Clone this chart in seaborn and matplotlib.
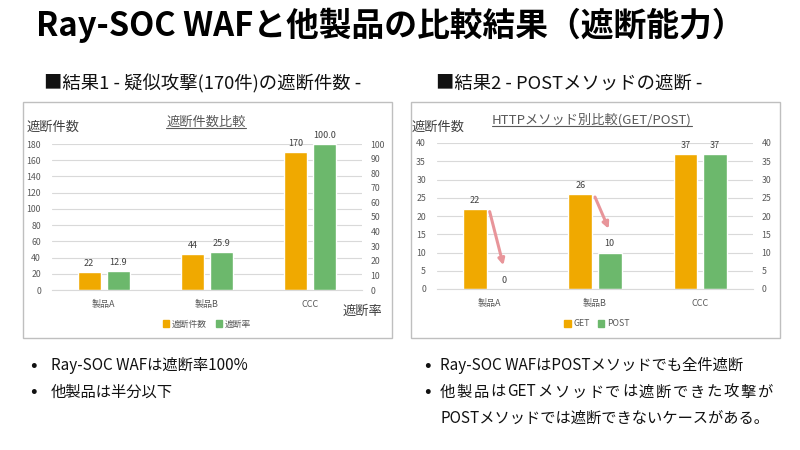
import matplotlib
matplotlib.use('Agg')
import matplotlib.pyplot as plt
import seaborn as sns
import pandas as pd
from matplotlib.patches import Rectangle, Patch
from matplotlib.lines import Line2D

# data
products = ['製品A', '製品B', 'CCC']
block_counts = [22, 44, 170]          # 遮断件数 (left axis)
block_rates = [12.9, 25.9, 100.0]     # 遮断率 (right axis)
get_counts = [22, 26, 37]
post_counts = [0, 10, 37]
left_ticks = list(range(0, 181, 20))
left_rate_ticks = list(range(0, 101, 10))
right_ticks = list(range(0, 41, 5))

ORANGE = '#F0A900'
GREEN = '#6CB86C'
TICK = '#595959'
DARK = '#404040'
ARROW = '#E8959A'

sns.set_theme(style='white')
plt.rcParams['font.family'] = ['Noto Sans CJK JP', 'DejaVu Sans']

W, H = 800, 450
fig = plt.figure(figsize=(8, 4.5), dpi=100)
fig.patch.set_facecolor('white')


def fx(px):
    return px / W


def fy(py):
    return 1 - py / H


def underline(t, color):
    r = fig.canvas.get_renderer()
    bb = t.get_window_extent(r)
    y = bb.y0 + 1
    fig.add_artist(Line2D([bb.x0 / W, bb.x1 / W], [y / H, y / H],
                          transform=fig.transFigure, color=color, lw=0.8))


def spaced_text(x0, x1, y, tokens, **kw):
    # justified line: spread tokens evenly between x0 and x1 (pixels)
    r = fig.canvas.get_renderer()
    texts = [fig.text(0, fy(y), t, **kw) for t in tokens]
    widths = [t.get_window_extent(r).width for t in texts]
    gap = (x1 - x0 - sum(widths)) / (len(tokens) - 1)
    x = x0
    for t, w in zip(texts, widths):
        t.set_x(fx(x))
        x += w + gap


# ---- slide texts ----
fig.text(fx(36), fy(36), 'Ray-SOC WAFと他製品の比較結果（遮断能力）',
         fontsize=23.6, fontweight='bold', color='black', va='baseline')
fig.text(fx(44), fy(89), '■結果1 - 疑似攻撃(170件)の遮断件数 -',
         fontsize=13.2, color='#111111', va='baseline')
fig.text(fx(436), fy(89), '■結果2 - POSTメソッドの遮断 -',
         fontsize=13.2, color='#111111', va='baseline')

# chart frames
for x0, x1 in [(23, 392), (411, 780)]:
    fig.patches.append(Rectangle((fx(x0), fy(338)), (x1 - x0) / W, (338 - 102) / H,
                                 transform=fig.transFigure, fill=False,
                                 edgecolor='#BFBFBF', lw=1))

# ---- left chart: 遮断件数比較 ----
df1 = pd.DataFrame({
    '製品': products * 2,
    '系列': ['遮断件数'] * 3 + ['遮断率'] * 3,
    '値': block_counts + block_rates,
})
pal1 = {'遮断件数': ORANGE, '遮断率': GREEN}
order1 = ['遮断件数', '遮断率']

ax1 = fig.add_axes([fx(52), fy(290), (362 - 52) / W, (290 - 144) / H])
ax1r = ax1.twinx()
sns.barplot(data=df1[df1['系列'] == '遮断件数'], x='製品', y='値', hue='系列',
            hue_order=order1, palette=pal1, order=products, width=0.56, gap=0.2,
            dodge=True, saturation=1, errorbar=None, legend=False, ax=ax1)
sns.barplot(data=df1[df1['系列'] == '遮断率'], x='製品', y='値', hue='系列',
            hue_order=order1, palette=pal1, order=products, width=0.56, gap=0.2,
            dodge=True, saturation=1, errorbar=None, legend=False, ax=ax1r)
ax1.set_ylim(0, 180)
ax1.set_yticks(left_ticks)
ax1r.set_ylim(0, 100)
ax1r.set_yticks(left_rate_ticks)
for c in ax1.containers:
    ax1.bar_label(c, fmt='%d', padding=3, fontsize=6.5, color=DARK)
for c in ax1r.containers:
    ax1r.bar_label(c, fmt='%.1f', padding=3, fontsize=6.5, color=DARK)

# ---- right chart: HTTPメソッド別比較 ----
df2 = pd.DataFrame({
    '製品': products * 2,
    'メソッド': ['GET'] * 3 + ['POST'] * 3,
    '件数': get_counts + post_counts,
})
ax2 = fig.add_axes([fx(437), fy(289), (753 - 437) / W, (289 - 143) / H])
ax2r = ax2.twinx()
sns.barplot(data=df2, x='製品', y='件数', hue='メソッド', order=products,
            palette={'GET': ORANGE, 'POST': GREEN}, width=0.56, gap=0.2,
            saturation=1, errorbar=None, legend=False, ax=ax2)
ax2.set_ylim(0, 40)
ax2.set_yticks(right_ticks)
ax2r.set_ylim(0, 40)
ax2r.set_yticks(right_ticks)
for c in ax2.containers:
    ax2.bar_label(c, fmt='%d', padding=3, fontsize=6.5, color=DARK)

# arrows GET -> POST where POST blocks fewer
for i, (g, p) in enumerate(zip(get_counts, post_counts)):
    if p < g:
        ax2.annotate('', xy=(i + 0.13, p + 6.5), xytext=(i, g - 0.8),
                     arrowprops=dict(arrowstyle='-|>', color=ARROW, lw=2.2,
                                     mutation_scale=9, shrinkA=0, shrinkB=0))

# shared axis styling
for ax in [ax1, ax1r, ax2, ax2r]:
    ax.set_xlabel('')
    ax.set_ylabel('')
    ax.set_xlim(-0.5, 2.5)
    for s in ax.spines.values():
        s.set_visible(False)
    ax.tick_params(axis='both', length=0, labelsize=6.3, labelcolor=TICK)
for ax in [ax1, ax2]:
    ax.set_axisbelow(True)
    ax.yaxis.grid(True, color='#D9D9D9', lw=0.8)
    ax.xaxis.grid(False)
    ax.spines['bottom'].set_visible(True)
    ax.spines['bottom'].set_color('#D9D9D9')
    ax.spines['bottom'].set_linewidth(0.8)
    ax.tick_params(axis='y', pad=8)
    ax.tick_params(axis='x', pad=7, labelsize=6.5)
    ax.patch.set_alpha(0)
for ax in [ax1r, ax2r]:
    ax.grid(False)
    ax.tick_params(axis='y', pad=6)

# chart titles / axis titles
t1 = fig.text(fx(206), fy(122), '遮断件数比較', fontsize=9.5, color=TICK,
              ha='center', va='center')
underline(t1, TICK)
fig.text(fx(27), fy(127), '遮断件数', fontsize=9.5, color=DARK, va='center')
fig.text(fx(343), fy(311), '遮断率', fontsize=9.5, color=DARK, va='center')
t2 = fig.text(fx(592), fy(120), 'HTTPメソッド別比較(GET/POST)', fontsize=9.5,
              color=TICK, ha='center', va='center')
underline(t2, TICK)
fig.text(fx(412), fy(127), '遮断件数', fontsize=9.5, color=DARK, va='center')

# legends
leg_kw = dict(ncol=2, frameon=False, fontsize=6.3, handlelength=0.7,
              handleheight=0.7, columnspacing=1.0, handletextpad=0.3,
              loc='center', labelcolor=TICK)
fig.legend(handles=[Patch(color=ORANGE, label='遮断件数'), Patch(color=GREEN, label='遮断率')],
           bbox_to_anchor=(fx(207), fy(324)), **leg_kw)
fig.legend(handles=[Patch(color=ORANGE, label='GET'), Patch(color=GREEN, label='POST')],
           bbox_to_anchor=(fx(597), fy(324)), **leg_kw)

# bullets
bullet_kw = dict(fontsize=11, color='#111111', va='center')
dot_kw = dict(fontsize=14, color='#111111', va='center', ha='center')
for x_dot, x_txt, y, s in [(33, 51, 365, 'Ray-SOC WAFは遮断率100%'),
                           (33, 51, 392, '他製品は半分以下'),
                           (427, 440, 365, 'Ray-SOC WAFはPOSTメソッドでも全件遮断')]:
    fig.text(fx(x_dot), fy(y), '•', **dot_kw)
    fig.text(fx(x_txt), fy(y), s, **bullet_kw)
fig.text(fx(427), fy(392), '•', **dot_kw)
spaced_text(440, 772, 392, ['他', '製', '品', 'は', 'GET', 'メ', 'ソ', 'ッ', 'ド', 'で',
                            'は', '遮', '断', 'で', 'き', 'た', '攻', '撃', 'が'], **bullet_kw)
fig.text(fx(440), fy(418), 'POSTメソッドでは遮断できないケースがある。', **bullet_kw)

fig.savefig('out.png', dpi=100)
